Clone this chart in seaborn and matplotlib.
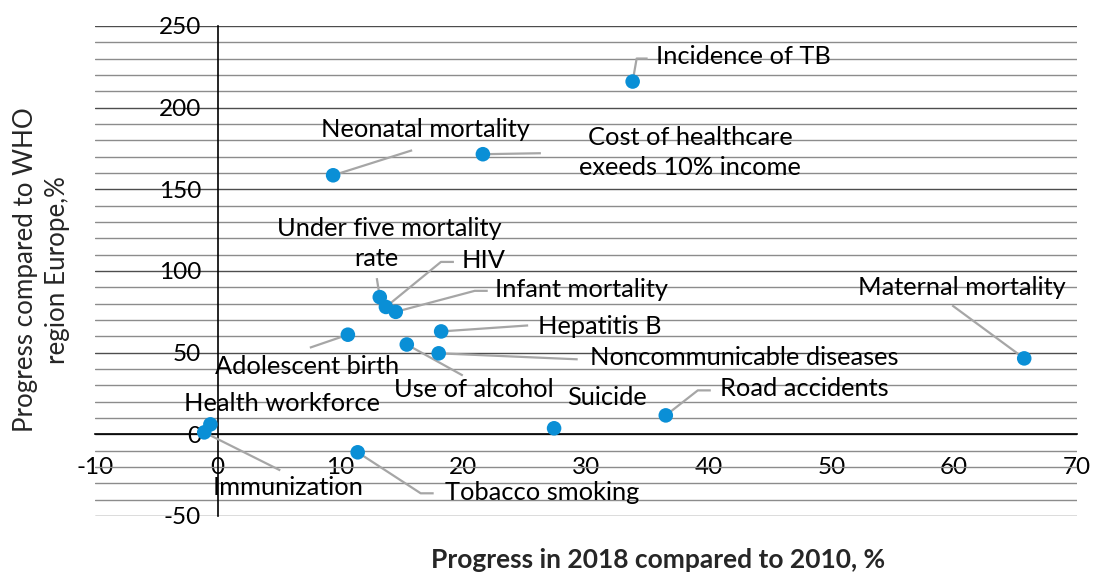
import numpy as np
import pandas as pd
import matplotlib
matplotlib.use("Agg")
import matplotlib.pyplot as plt
import seaborn as sns
from matplotlib.lines import Line2D

# ---------------- data ----------------
labels = ["Incidence of TB", "Cost of healthcare\nexeeds 10% income", "Neonatal mortality",
          "Under five mortality\nrate", "HIV", "Infant mortality", "Hepatitis B",
          "Adolescent birth", "Use of alcohol", "Noncommunicable diseases",
          "Maternal mortality", "Road accidents", "Suicide", "Health workforce",
          "Immunization", "Tobacco smoking"]
progress_2018 = [33.8, 21.6, 9.4, 13.2, 13.7, 14.5, 18.2, 10.6, 15.4, 18.0,
                 65.7, 36.5, 27.4, -0.6, -1.1, 11.4]
progress_who = [216, 171.5, 158.6, 84, 78, 75, 63, 61, 55, 49.6,
                46.5, 11.6, 3.7, 6.1, 1.2, -11]
x_ticks = [-10, 0, 10, 20, 30, 40, 50, 60, 70]
y_ticks = [-50, 0, 50, 100, 150, 200, 250]

# label placement: per text line (pixel offset from point, image y-down), ha, leader path
label_style = {
    "Incidence of TB": ([(23, -25)], "left", [(0, 0), (4, -23), (15, -23)]),
    "Cost of healthcare\nexeeds 10% income": ([(207, -17), (207, 13)], "center", [(0, 0), (58, -1)]),
    "Neonatal mortality": ([(92, -46)], "center", [(0, 0), (79, -25)]),
    "Under five mortality\nrate": ([(10, -69), (-3, -39)], "center", [(0, 0), (-3, -19)]),
    "HIV": ([(76, -46)], "left", [(0, 0), (55, -45), (68, -45)]),
    "Infant mortality": ([(99, -22)], "left", [(0, 0), (79, -21), (92, -21)]),
    "Hepatitis B": ([(97, -5)], "left", [(0, 0), (87, -6)]),
    "Adolescent birth": ([(-41, 32)], "center", [(0, 0), (-38, 13)]),
    "Use of alcohol": ([(67, 45)], "center", [(0, 0), (56, 31)]),
    "Noncommunicable diseases": ([(151, 4)], "left", [(0, 0), (139, 6)]),
    "Maternal mortality": ([(-62, -71)], "center", [(0, 0), (-72, -53)]),
    "Road accidents": ([(54, -27)], "left", [(0, 0), (32, -25), (45, -25)]),
    "Suicide": ([(53, -31)], "center", None),
    "Health workforce": ([(72, -21)], "center", None),
    "Immunization": ([(84, 55)], "center", [(0, 0), (76, 38)]),
    "Tobacco smoking": ([(87, 40)], "left", [(0, 0), (63, 41), (76, 41)]),
}

df = pd.DataFrame({"label": labels, "x": progress_2018, "y": progress_who})

# ---------------- style ----------------
sns.set_style("white")
plt.rcParams["font.family"] = ["Lato", "DejaVu Sans"]
plt.rcParams["axes.unicode_minus"] = False

W, H, DPI = 1099, 573, 100
fig = plt.figure(figsize=(W / DPI, H / DPI), dpi=DPI)
ax = fig.add_axes([95 / W, 1 - 516 / H, (1077 - 95) / W, (516 - 26) / H])

POINT = "#0a8fd6"
LEADER = "#a6a6a6"
FS = 18.3

ax.set_xlim(-10, 70)
ax.set_ylim(-50, 250)
ax.set_xticks(x_ticks)
ax.set_yticks(y_ticks)
ax.set_yticks(np.arange(-50, 251, 10), minor=True)
ax.grid(False)
ax.grid(which="minor", axis="y", color="#8c8c8c", lw=1.0, zorder=0)
ax.grid(which="major", axis="y", color="#4d4d4d", lw=1.0, zorder=0)
ax.set_axisbelow(True)

for s in ["top", "right"]:
    ax.spines[s].set_visible(False)
ax.spines["left"].set_position(("data", 0))
ax.spines["bottom"].set_position(("data", 0))
for s in ["left", "bottom"]:
    ax.spines[s].set_color("black")
    ax.spines[s].set_linewidth(1.2)

ax.tick_params(axis="x", which="major", direction="out", length=8, width=1.2,
               pad=8, labelsize=17.5, colors="black")
ax.tick_params(axis="y", which="major", direction="out", length=5, width=1.2,
               pad=7, labelsize=17.5, colors="black")
ax.tick_params(which="minor", length=0)

sns.scatterplot(data=df, x="x", y="y", ax=ax, color=POINT, s=110,
                edgecolor="none", zorder=5, legend=False)
ax.set_xlabel("")
ax.set_ylabel("")

# ---------------- labels & leaders ----------------
fig.canvas.draw()
for lab, xv, yv in zip(labels, progress_2018, progress_who):
    offsets, ha, path = label_style[lab]
    px, py = ax.transData.transform((xv, yv))
    if path:
        xs = [px + dx for dx, dy in path]
        ys = [py - dy for dx, dy in path]
        ln = Line2D(xs, ys, transform=None, color=LEADER, lw=1.6, zorder=4,
                    solid_capstyle="butt")
        ax.add_line(ln)
        ln.set_clip_on(False)
    for line_text, (tdx, tdy) in zip(lab.split("\n"), offsets):
        ax.annotate(line_text, xy=(xv, yv), xytext=(tdx * 72 / DPI, -tdy * 72 / DPI),
                    textcoords="offset points", ha=ha, va="center", fontsize=FS,
                    color="black", zorder=6)

fig.text(41.5 / W, 1 - 270 / H, "Progress compared to WHO\nregion Europe,%",
         rotation=90, ha="center", va="center", fontsize=18.7, linespacing=1.3)
fig.text(658 / W, 1 - 560 / H, "Progress in 2018 compared to 2010, %",
         ha="center", va="center", fontsize=19, fontweight="bold")

fig.savefig("out.png", dpi=DPI)
